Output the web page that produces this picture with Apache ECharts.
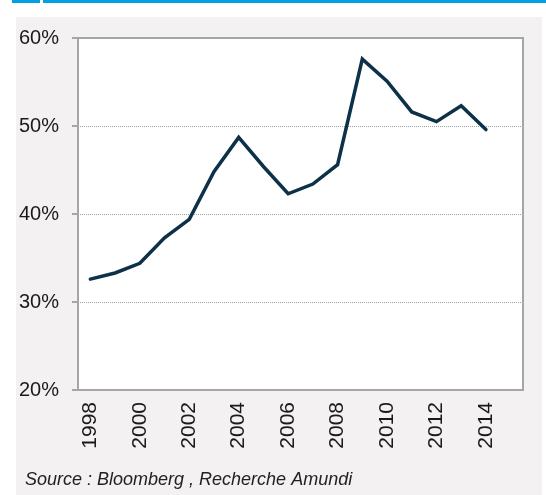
<!DOCTYPE html>
<html>
<head>
<meta charset="utf-8">
<script src="https://cdn.jsdelivr.net/npm/echarts@6/dist/echarts.min.js"></script>
<style>
  html, body { margin: 0; padding: 0; background: #ffffff; }
  #chart { width: 546px; height: 495px; }
</style>
</head>
<body>
<div id="chart"></div>
<script>
// years on the axis (2015 slot is empty, as in the source chart)
const years = ['1998', '1999', '2000', '2001', '2002', '2003', '2004', '2005', '2006',
               '2007', '2008', '2009', '2010', '2011', '2012', '2013', '2014', '2015'];
// share in %
const values = [32.6, 33.3, 34.4, 37.3, 39.4, 44.8, 48.7, 45.4, 42.3,
                43.4, 45.6, 57.6, 55.1, 51.6, 50.5, 52.3, 49.6];
const yTicks = [20, 30, 40, 50, 60];
const sourceText = 'Source : Bloomberg , Recherche Amundi';

const font = '"Liberation Sans", Arial, sans-serif';
const myChart = echarts.init(document.getElementById('chart'));

myChart.setOption({
    animation: false,
    backgroundColor: '#ffffff',
    graphic: [
        // grey page background
        { type: 'rect', z: -10, shape: { x: 16, y: 17, width: 526, height: 478 }, style: { fill: '#f3f1f2' } },
        // blue strip at top
        { type: 'rect', shape: { x: 12, y: 0, width: 28, height: 3 }, style: { fill: '#00a0e3' } },
        { type: 'rect', shape: { x: 43, y: 0, width: 503, height: 3 }, style: { fill: '#00a0e3' } },
        {
            type: 'text', left: 25, top: 471,
            style: { text: sourceText, font: 'italic 18px ' + font, fill: '#222222' }
        }
    ],
    grid: {
        left: 78, right: 23, top: 38, bottom: 105,
        show: true,
        backgroundColor: '#ffffff',
        borderColor: '#a6a6a6',
        borderWidth: 2
    },
    xAxis: {
        type: 'category',
        data: years,
        boundaryGap: true,
        axisLine: { lineStyle: { color: '#a6a6a6', width: 2 } },
        axisTick: { interval: 1, length: 5, lineStyle: { color: '#a6a6a6', width: 2 } },
        axisLabel: {
            interval: 1,
            rotate: 90,
            margin: 12,
            fontFamily: font,
            fontSize: 21,
            color: '#1a1a1a',
            formatter: function (v) { return v === '2015' ? '' : v; }
        },
        splitLine: { show: false }
    },
    yAxis: {
        type: 'value',
        min: yTicks[0],
        max: yTicks[yTicks.length - 1],
        interval: 10,
        axisLine: { show: true, lineStyle: { color: '#a6a6a6', width: 2 } },
        axisTick: { show: true, length: 6, lineStyle: { color: '#a6a6a6', width: 2 } },
        axisLabel: {
            margin: 19,
            fontFamily: font,
            fontSize: 20,
            color: '#1a1a1a',
            formatter: '{value}%'
        },
        splitLine: { show: true, lineStyle: { color: '#a0a0a0', type: 'dotted', width: 1 } }
    },
    series: [{
        type: 'line',
        data: values,
        showSymbol: false,
        symbol: 'none',
        lineStyle: { color: '#0c3149', width: 3.5, cap: 'round', join: 'miter' }
    }]
});
</script>
</body>
</html>
